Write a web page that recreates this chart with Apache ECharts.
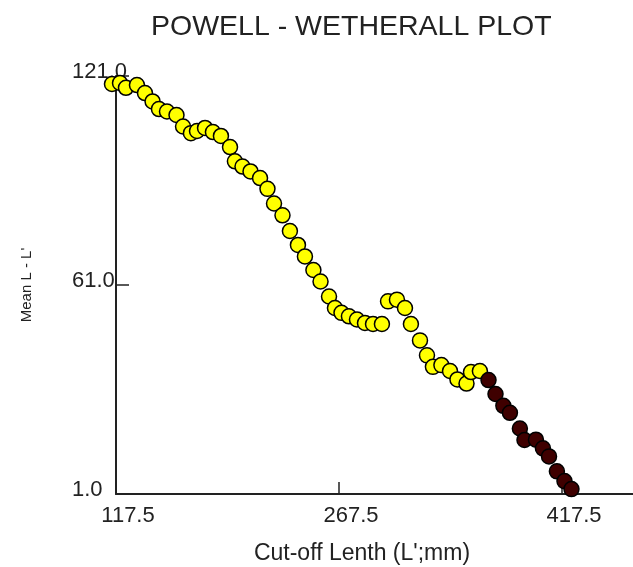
<!DOCTYPE html>
<html>
<head>
<meta charset="utf-8">
<script src="https://cdn.jsdelivr.net/npm/echarts@6/dist/echarts.min.js"></script>
<style>
  html, body { margin: 0; padding: 0; background: #fff; }
  #chart { width: 633px; height: 567px; }
</style>
</head>
<body>
<div id="chart"></div>
<script>
// Cut-off length L' (mm) and mean(L) - L' for the points left of the fit range
const yellowLengths = [114.8, 120.2, 124.2, 131.6, 137.0, 142.1, 146.4, 151.8, 158.2, 162.6,
  167.9, 172.0, 177.4, 182.7, 188.1, 194.2, 197.5, 202.6, 208.0, 214.4,
  219.4, 223.8, 229.5, 234.5, 239.9, 244.6, 250.3, 255.1, 260.8, 264.8,
  269.2, 274.2, 279.6, 285.0, 290.4, 296.4, 300.5, 306.5, 311.9, 315.9,
  322.0, 326.7, 330.7, 336.4, 342.2, 347.2, 353.3, 356.3, 362.3];
const yellowMeanDiff = [118.7, 119.0, 117.6, 118.4, 116.1, 113.7, 111.5, 110.8, 109.8, 106.5,
  104.6, 105.2, 106.1, 104.9, 103.8, 100.6, 96.5, 95.0, 93.6, 91.7,
  88.6, 84.4, 81.0, 76.5, 72.5, 69.2, 65.3, 62.0, 57.7, 54.4,
  53.0, 52.0, 51.1, 50.1, 49.8, 49.8, 56.3, 56.8, 54.4, 49.8,
  45.1, 40.8, 37.5, 38.0, 36.3, 33.9, 32.7, 36.0, 36.3];

// Points used for the regression
const fitLengths = [368.1, 372.8, 378.1, 382.5, 389.2, 392.3, 400.0, 404.7, 408.8, 414.1, 419.2, 423.9];
const fitMeanDiff = [33.7, 29.7, 26.3, 24.3, 19.8, 16.5, 16.6, 14.1, 11.8, 7.5, 4.7, 2.4];

const xTicks = [117.5, 267.5, 417.5];
const yTicks = [1.0, 61.0, 121.0];

const pairs = (xs, ys) => xs.map((x, i) => [x, ys[i]]);

const textColor = '#222';
const fontFamily = '"Liberation Sans", Arial, sans-serif';

const chart = echarts.init(document.getElementById('chart'), null, { renderer: 'canvas' });
chart.setOption({
  animation: false,
  backgroundColor: '#ffffff',
  title: {
    text: 'POWELL - WETHERALL PLOT',
    left: 146,
    top: 8,
    textStyle: { fontFamily, fontSize: 28.5, fontWeight: 'normal', color: textColor }
  },
  grid: { left: 116, top: 76, right: 0, bottom: 73, containLabel: false, outerBoundsMode: 'none' },
  xAxis: {
    type: 'value',
    min: 117.5,
    max: 465.3,
    name: "Cut-off Lenth (L';mm)",
    nameLocation: 'middle',
    nameGap: 48,
    nameTextStyle: { fontFamily, fontSize: 23, color: textColor, padding: [0, 25, 0, 0] },
    axisLine: { show: true, onZero: false, lineStyle: { color: '#222', width: 2 } },
    axisTick: { show: true, inside: true, length: 12, customValues: xTicks, lineStyle: { color: '#222', width: 1.5 } },
    axisLabel: {
      customValues: xTicks,
      formatter: v => v.toFixed(1),
      fontFamily, fontSize: 22, color: textColor,
      margin: 11,
      align: 'center',
      padding: [0, 0, 0, 24]
    },
    splitLine: { show: false }
  },
  yAxis: {
    type: 'value',
    min: 1,
    max: 121,
    name: "Mean L - L'",
    nameLocation: 'middle',
    nameGap: 82,
    nameRotate: 90,
    nameTextStyle: { fontFamily, fontSize: 15, color: textColor },
    axisLine: { show: true, onZero: false, lineStyle: { color: '#222', width: 2 } },
    axisTick: { show: true, inside: true, length: 13, customValues: yTicks, lineStyle: { color: '#222', width: 1.5 } },
    axisLabel: {
      customValues: yTicks,
      formatter: v => v.toFixed(1),
      fontFamily, fontSize: 22, color: textColor,
      margin: 44,
      align: 'left',
      verticalAlign: 'bottom',
      lineHeight: 9
    },
    splitLine: { show: false }
  },
  series: [
    {
      type: 'scatter',
      clip: false,
      symbol: 'circle',
      symbolSize: 15,
      itemStyle: { color: '#ffff00', opacity: 1, borderColor: '#000', borderWidth: 1.5 },
      data: pairs(yellowLengths, yellowMeanDiff)
    },
    {
      type: 'scatter',
      clip: false,
      symbol: 'circle',
      symbolSize: 15,
      itemStyle: { color: '#3f0000', opacity: 1, borderColor: '#000', borderWidth: 1.5 },
      data: pairs(fitLengths, fitMeanDiff)
    }
  ]
});
</script>
</body>
</html>
